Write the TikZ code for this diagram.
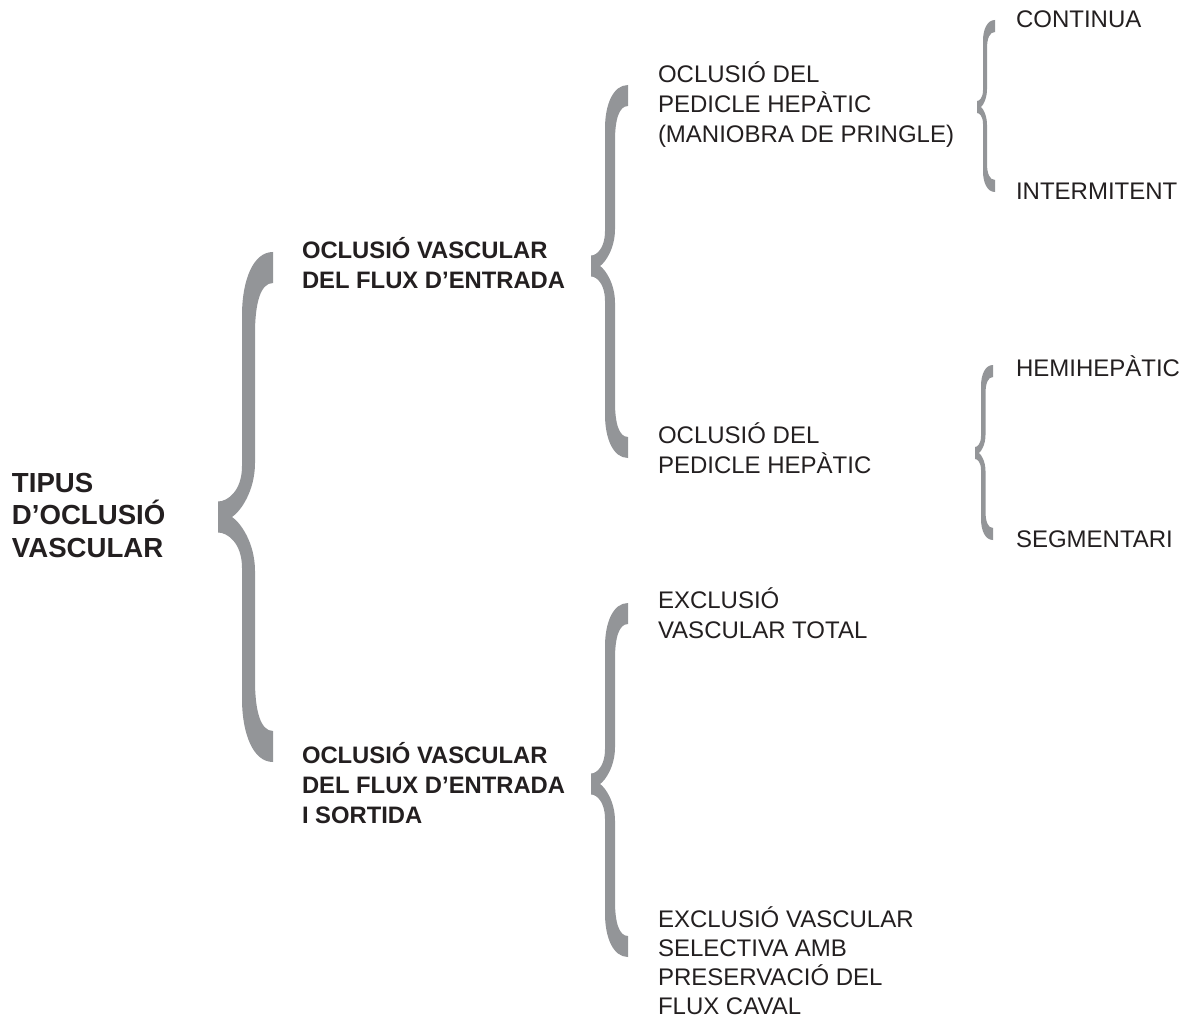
\documentclass[tikz,border=0pt]{standalone}
\usepackage{fontspec}
\setmainfont{Liberation Sans}
\definecolor{bracegray}{RGB}{147,149,152}
\definecolor{inkblack}{RGB}{35,31,32}
% #1 tip x, #2 stem left, #3 stem right, #4 right end x, #5 top y, #6 mid y, #7 bottom y, #8 end cut height, #9 inner tip x
\newcommand\bracefill[9]{%
\begingroup
\pgfmathsetmacro\brcC{0.24*(#6-#5)}%
\pgfmathsetmacro\brcF{#8/2}%
\fill[bracegray] (#4,#5) .. controls ({#2+0.35*(#4-#2)},#5) and (#2,{#5+0.45*\brcC}) .. (#2,{#5+\brcC})
 -- (#2,{#6-0.8*\brcC}) .. controls (#2,{#6-\brcF-0.3*(0.8*\brcC-\brcF)}) and ({#1+0.4*(#2-#1)},{#6-\brcF}) .. (#1,{#6-\brcF})
 -- (#1,{#6+\brcF}) .. controls ({#1+0.4*(#2-#1)},{#6+\brcF}) and (#2,{#6+\brcF+0.3*(0.8*\brcC-\brcF)}) .. (#2,{#6+0.8*\brcC})
 -- (#2,{#7-\brcC}) .. controls (#2,{#7-0.45*\brcC}) and ({#2+0.35*(#4-#2)},#7) .. (#4,#7)
 -- (#4,{#7-#8}) .. controls ({#3+0.3*(#4-#3)},{#7-#8}) and (#3,{#7-#8-0.32*\brcC}) .. (#3,{#7-#8-0.8*\brcC})
 -- (#3,{#6+0.85*\brcC}) .. controls (#3,{#6+0.4*\brcC}) and ({#9+0.35*(#3-#9)},{#6+0.08*\brcC}) .. (#9,#6)
 .. controls ({#9+0.35*(#3-#9)},{#6-0.08*\brcC}) and (#3,{#6-0.4*\brcC}) .. (#3,{#6-0.85*\brcC})
 -- (#3,{#5+#8+0.8*\brcC}) .. controls (#3,{#5+#8+0.32*\brcC}) and ({#3+0.3*(#4-#3)},{#5+#8}) .. (#4,{#5+#8}) -- cycle;
\endgroup}
\newcommand\tstrut{\rule{0pt}{30pt}}
\tikzset{
  lbl/.style={anchor=north west, inner sep=0pt, outer sep=0pt, align=left, text=inkblack, font=\fontsize{24}{30}\selectfont},
  lblb/.style={lbl, font=\fontsize{23.8}{30}\selectfont\bfseries},
  ttl/.style={lbl, font=\fontsize{27.6}{32.5}\selectfont\bfseries}
}
\begin{document}
\begin{tikzpicture}[x=1pt,y=-1pt]
\useasboundingbox (0,0) rectangle (1184,1019);
% braces
\bracefill{218}{242}{255}{273}{252}{517}{762}{31}{232}
\bracefill{591}{605}{615}{628}{85}{266}{458}{21}{600}
\bracefill{591}{605}{615}{628}{603}{784}{957}{21}{600}
\bracefill{977}{983}{987}{995}{20}{107}{192}{12}{981}
\bracefill{975}{981}{985.5}{993}{365}{453}{540}{12}{979}
% texts
\node[ttl] (tipus) at (12,{492-30}) {\tstrut TIPUS\\D’OCLUSIÓ\\VASCULAR};
\node[lblb] (entrada) at (302,{258-30}) {\tstrut OCLUSIÓ VASCULAR\\DEL FLUX D’ENTRADA};
\node[lblb] (sortida) at (302,{763-30}) {\tstrut OCLUSIÓ VASCULAR\\DEL FLUX D’ENTRADA\\I SORTIDA};
\node[lbl] (pringle) at (658,{83-30}) {\tstrut OCLUSIÓ DEL\\PEDICLE HEPÀTIC\\(MANIOBRA DE PRINGLE)};
\node[lbl] (pedicle) at (658,{443-30}) {\tstrut OCLUSIÓ DEL\\PEDICLE HEPÀTIC};
\node[lbl] (total) at (658,{608-30}) {\tstrut EXCLUSIÓ\\VASCULAR TOTAL};
\node[lbl, font=\fontsize{24}{29}\selectfont] (selectiva) at (658,{927-30}) {\tstrut EXCLUSIÓ VASCULAR\\SELECTIVA AMB\\PRESERVACIÓ DEL\\FLUX CAVAL};
\node[lbl] (continua) at (1016,{28-30}) {\tstrut CONTINUA};
\node[lbl] (intermitent) at (1016,{200-30}) {\tstrut INTERMITENT};
\node[lbl] (hemi) at (1016,{376-30}) {\tstrut HEMIHEPÀTIC};
\node[lbl] (segment) at (1016,{547-30}) {\tstrut SEGMENTARI};
\end{tikzpicture}
\end{document}
